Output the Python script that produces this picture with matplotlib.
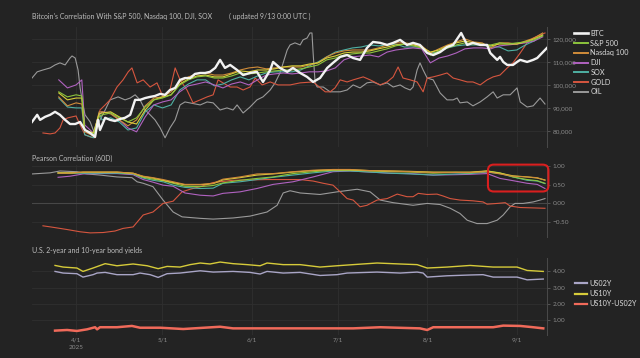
import numpy as np
import pandas as pd
import matplotlib
matplotlib.use("Agg")
import matplotlib.pyplot as plt
import matplotlib.dates as mdates
from matplotlib.ticker import FuncFormatter, FixedLocator
from matplotlib.patches import FancyBboxPatch

plt.rcParams['font.family'] = ['Lato', 'DejaVu Sans']

BASE = "2025-04-01"

# ---------------- Panel 1: prices (BTC axis, others rescaled onto it), USD thousands
btc_days = [-15.3,-13.5,-12.5,-10.8,-9.0,-7.3,-5.6,-3.8,-2.1,-0.3,1.4,3.1,4.9,6.6,7.6,8.3,10.1,11.8,13.5,15.3,
            17.0,18.8,20.5,22.2,24.0,25.7,27.4,29.2,30.9,32.6,34.4,36.1,37.8,39.6,41.3,43.1,44.8,46.5,48.3,50.0,
            51.7,53.5,55.9,58.0,60.4,62.8,64.9,67.4,68.4,70.8,73.3,75.3,77.8,80.2,82.3,84.7,87.2,89.2,91.7,94.1,
            96.2,98.6,101.0,103.1,105.6,108.0,110.1,112.5,114.9,117.0,119.4,121.9,124.0,126.4,128.8,130.9,133.7,135.8,137.8,140.3,
            142.7,143.8,146.2,147.2,148.3,149.7,151.7,153.1,154.2,156.6,158.7,160.1,161.1,162.8,163.5]
btc_k = [83.9,87.0,84.8,86.1,87.0,88.3,87.0,84.8,83.0,83.0,83.9,80.4,79.1,77.4,84.8,80.4,85.7,84.8,84.3,85.2,
         85.7,87.0,93.5,93.5,94.3,94.8,95.2,96.1,95.7,97.8,98.7,102.2,103.0,103.0,104.8,105.2,105.2,105.7,107.4,110.9,
         107.4,108.7,106.5,104.3,105.2,105.7,101.3,106.5,110.0,107.4,105.7,107.4,105.2,103.5,101.3,103.0,107.4,109.6,112.2,113.0,
         111.7,110.9,116.1,118.7,118.3,117.4,118.3,119.6,117.4,118.3,117.4,113.9,113.0,114.3,116.5,117.4,122.6,117.4,118.3,117.4,
         117.4,113.9,110.9,112.2,110.0,108.7,108.7,110.0,110.9,110.0,110.9,111.7,113.0,115.2,116.1]

oil_days = [-15.3,-13.5,-11.5,-9.0,-7.3,-5.6,-3.8,-2.1,-1.4,-0.3,0.7,1.4,2.4,3.1,4.9,6.6,7.3,8.3,10.1,11.8,
            14.6,17.0,18.8,20.5,22.2,24.0,25.7,27.4,29.2,30.9,32.6,34.4,36.1,37.8,43.1,45.5,47.6,50.0,52.4,54.5,
            55.9,58.0,60.4,62.8,64.9,67.4,69.1,70.8,71.9,73.3,74.3,76.0,77.8,78.8,80.2,81.2,81.9,82.3,83.0,83.7,
            85.8,88.2,91.7,94.1,96.2,98.6,101.0,103.1,105.6,108.0,110.1,112.5,114.2,116.0,117.0,118.4,119.4,120.5,121.9,124.0,
            126.4,128.8,130.9,132.3,133.3,135.8,137.8,140.3,142.7,144.8,146.2,148.3,150.7,153.1,154.2,156.6,158.7,161.1,162.8]
oil_k = [103.0,105.7,106.5,107.4,108.7,109.6,108.7,111.7,112.6,111.7,106.5,98.7,91.3,87.0,83.9,78.3,81.7,84.8,89.1,93.5,
         94.8,93.5,94.3,95.7,93.5,89.1,87.0,84.8,81.3,77.0,81.3,84.8,91.3,92.6,91.3,92.6,92.2,89.1,90.0,89.1,
         91.3,87.8,90.4,93.5,94.8,97.8,100.9,105.2,109.6,115.2,117.4,118.3,117.4,119.6,120.4,122.6,122.6,113.9,100.9,99.1,
         99.1,97.0,97.0,97.8,100.0,98.7,100.9,101.3,100.0,100.9,99.1,100.0,98.7,97.8,99.1,106.5,109.6,106.5,103.0,102.2,
         96.5,93.5,93.5,94.3,92.2,92.6,90.9,92.6,94.8,97.0,94.3,95.7,95.7,98.7,92.6,90.4,90.9,94.3,91.7]

gold_days = [-11.5,-9.0,-7.3,-5.6,-4.5,-2.8,-1.4,0.0,1.4,3.1,4.9,6.6,8.3,10.1,11.8,14.2,16.3,18.1,19.4,21.2,
             23.3,25.7,28.1,30.2,32.6,34.4,36.1,38.5,40.6,43.1,45.5,47.6,49.3,51.0,53.5,55.9,58.0,60.4,62.2,64.6,
             67.4,70.1,74.3,77.8,82.3,86.5,88.2,89.9,91.7,94.1,96.2,99.7,102.1,105.6,108.0,110.1,111.8,113.5,116.0,118.4,
             120.5,121.9,124.0,126.4,128.8,130.9,133.3,135.8,137.8,140.3,142.7,144.8,147.2,149.7,151.7,154.2,156.6,158.7,161.1,162.8]
gold_k = [79.1,78.7,79.1,81.3,84.8,85.7,86.1,86.5,82.6,78.3,77.4,77.0,89.1,91.3,93.5,99.1,102.2,105.7,107.4,100.9,
          102.2,99.1,100.9,94.8,97.8,107.4,102.2,97.8,92.2,93.5,94.8,95.7,102.2,100.9,99.1,99.1,97.8,99.1,103.0,100.0,
          101.3,100.0,100.0,100.9,101.3,97.0,97.0,98.7,102.2,101.3,102.2,103.5,102.2,100.0,101.3,103.5,107.8,103.0,102.2,101.3,
          97.0,103.0,103.5,104.3,105.2,103.0,102.2,101.3,101.3,100.0,102.2,103.5,104.3,107.4,109.6,113.9,118.3,120.4,121.7,122.6]

eq_days = [-6,-3,0,2,3,6,8,9,12,15,18,21,24,27,30,33,36,39,42,45,48,51,54,57,60,63,66,69,72,75,78,81,84,87,90,93,96,99,
           102,105,108,111,114,117,120,123,126,129,132,135,138,141,144,147,150,153,156,159,162]
spx_k = [97.0,94.8,95.7,95.2,80.4,78.3,86.1,87.0,87.8,85.7,83.9,85.7,90.4,93.5,94.3,95.7,100.0,
         102.2,103.5,103.9,103.0,103.0,103.9,105.2,104.8,105.2,105.7,106.1,106.5,106.5,107.0,107.8,108.7,110.9,111.7,113.0,113.5,
         113.9,113.9,114.8,115.7,117.0,117.8,117.0,116.1,113.0,114.8,116.1,117.4,118.3,117.8,117.4,117.4,118.3,117.8,118.3,118.7,119.6,121.3]
ndx_k = [94.8,90.9,92.2,91.7,79.6,77.8,88.3,88.3,87.4,84.8,82.2,84.8,90.9,94.3,94.8,97.0,101.3,
         103.5,104.8,105.2,104.3,104.3,105.2,106.5,107.4,107.8,107.0,107.4,107.8,107.8,107.8,108.7,109.6,112.2,113.9,114.8,115.2,
         115.2,115.2,116.1,117.4,118.3,118.3,117.8,117.0,113.9,115.7,117.4,118.7,120.0,118.7,118.3,116.1,118.3,118.3,117.8,119.1,120.4,122.6]
dji_k = [102.2,98.7,100.0,102.2,82.6,79.1,87.0,88.3,87.8,84.8,81.3,79.6,86.1,91.3,92.6,93.5,97.0,
         99.6,100.4,101.3,100.0,98.7,100.4,101.3,100.0,102.2,104.3,104.8,105.2,104.8,105.2,105.7,105.7,106.1,107.4,110.9,112.2,
         112.6,113.0,112.2,114.3,115.2,115.7,116.1,115.7,109.6,111.7,112.6,113.9,115.7,116.1,116.1,115.7,117.0,117.4,117.8,118.3,119.1,120.9]
sox_k = [94.3,90.4,90.0,90.0,78.3,77.0,87.8,84.8,85.7,83.9,80.4,81.3,88.3,91.3,90.0,91.3,97.8,
         100.4,102.2,102.2,99.6,100.4,102.2,103.5,102.2,103.9,105.2,105.7,105.7,105.7,106.5,108.3,110.0,112.2,114.3,115.2,116.1,
         116.5,117.4,117.0,117.4,117.8,116.5,116.5,116.5,113.9,114.3,116.1,117.0,117.4,117.4,117.4,116.5,116.5,114.8,115.2,117.4,119.1,121.7]
yellow_k = [96.5,93.5,94.3,94.3,80.4,79.1,87.4,87.8,88.3,86.1,83.9,83.0,89.1,93.5,94.8,95.7,100.4,
            102.6,103.9,104.3,103.5,103.5,104.8,106.1,105.7,106.5,106.5,107.0,107.8,108.3,108.3,109.1,109.6,111.7,112.6,113.9,114.3,
            114.3,114.8,115.7,116.5,117.4,117.8,117.4,116.5,114.3,115.2,117.0,118.3,119.1,118.3,117.8,117.0,117.8,117.8,117.8,118.7,120.0,121.7]

# ---------------- Panel 2: Pearson correlation (60D)
corr_eq_days = [-6.25,-2.1,2.4,8.3,14.2,19.8,23.3,26.7,30.2,33.7,37.8,43.1,47.6,51.0,56.9,62.8,68.4,75.3,82.3,89.2,
                95.1,102.1,109.0,116.0,124.0,131.6,136.8,142.7,147.2,151.7,156.6,160.1,162.8]
corr_ndx = [0.81,0.81,0.84,0.84,0.84,0.81,0.73,0.69,0.64,0.58,0.51,0.51,0.54,0.65,0.71,0.79,0.80,0.85,0.89,0.91,
            0.91,0.88,0.87,0.85,0.83,0.83,0.83,0.85,0.79,0.73,0.71,0.69,0.62]
corr_spx = [0.82,0.81,0.83,0.83,0.83,0.80,0.70,0.65,0.61,0.54,0.46,0.45,0.48,0.55,0.62,0.67,0.71,0.80,0.85,0.89,
            0.89,0.87,0.85,0.84,0.81,0.83,0.82,0.87,0.82,0.71,0.64,0.61,0.54]
corr_sox = [0.81,0.81,0.81,0.81,0.81,0.79,0.68,0.62,0.58,0.49,0.43,0.40,0.41,0.54,0.58,0.64,0.70,0.76,0.82,0.87,
            0.87,0.84,0.81,0.79,0.76,0.79,0.80,0.84,0.80,0.71,0.62,0.60,0.53]
corr_dji = [0.70,0.73,0.79,0.80,0.80,0.77,0.64,0.57,0.49,0.46,0.28,0.22,0.20,0.27,0.31,0.40,0.51,0.58,0.71,0.85,
            0.87,0.84,0.81,0.80,0.76,0.77,0.78,0.80,0.67,0.61,0.54,0.51,0.40]
corr_yellow = [0.82,0.82,0.84,0.84,0.84,0.81,0.72,0.68,0.62,0.56,0.50,0.50,0.53,0.63,0.69,0.76,0.79,0.84,0.88,0.90,
               0.90,0.88,0.87,0.86,0.84,0.84,0.84,0.87,0.81,0.74,0.71,0.68,0.63]
corr_oil_days = [-15.3,-9.0,-5.6,0.3,3.8,8.3,14.2,19.4,21.2,23.3,26.7,30.2,33.7,36.8,43.1,47.6,54.5,60.4,66.3,69.8,
                 71.9,74.3,77.8,84.7,90.6,97.6,102.1,105.6,110.1,117.0,121.9,126.4,129.9,133.3,135.8,139.2,142.7,146.2,148.3,150.7,
                 152.4,155.2,158.7,161.1,162.8]
corr_oil = [0.79,0.82,0.87,0.85,0.79,0.76,0.71,0.69,0.58,0.54,0.45,0.09,-0.23,-0.36,-0.40,-0.42,-0.39,-0.34,-0.23,-0.05,
            0.28,0.34,0.28,0.24,0.31,0.38,0.31,0.09,0.02,-0.05,0.00,-0.03,-0.13,-0.27,-0.45,-0.54,-0.54,-0.45,-0.31,-0.09,
            0.00,0.00,0.04,0.09,0.13]
corr_gold_days = [-11.5,-8.0,-3.1,1.4,4.9,9.4,13.5,16.3,19.8,23.3,26.7,30.2,33.7,36.8,39.6,43.1,47.6,54.5,66.3,77.8,
                  82.3,85.8,89.2,91.7,94.1,96.2,98.6,101.0,104.5,108.0,111.5,114.9,117.0,118.8,121.9,125.3,127.4,129.9,133.3,137.8,
                  141.3,142.7,146.2,149.0,150.7,154.2,158.7,162.8]
corr_gold = [-0.60,-0.64,-0.70,-0.76,-0.79,-0.78,-0.74,-0.67,-0.63,-0.31,-0.23,0.00,0.06,0.31,0.38,0.45,0.56,0.62,0.64,0.64,
             0.60,0.54,0.49,0.31,0.13,0.09,-0.09,-0.05,0.09,0.13,0.25,0.18,0.18,0.27,0.24,0.25,0.20,0.13,0.09,0.07,
             0.04,-0.02,0.00,0.02,-0.07,-0.11,-0.12,-0.13]

# ---------------- Panel 3: US yields (%)
us10y_days = [-7.3,-4.5,0.3,2.4,5.9,10.1,14.2,19.8,24.7,28.5,31.6,36.1,39.6,43.1,46.5,50.0,54.5,59.4,63.9,66.3,
              71.9,77.8,84.7,90.6,96.2,104.5,112.5,118.4,121.9,128.8,136.8,144.8,153.1,156.6,162.2]
us10y = [4.37,4.27,4.21,4.00,4.21,4.48,4.35,4.46,4.35,4.17,4.31,4.27,4.42,4.52,4.46,4.58,4.48,4.42,4.35,4.52,
         4.42,4.42,4.27,4.35,4.42,4.52,4.46,4.42,4.21,4.27,4.37,4.27,4.27,4.06,4.00]
us02y_days = [-7.3,-4.5,0.3,2.4,5.9,7.3,10.1,14.2,19.8,22.2,25.7,28.5,31.6,36.1,43.1,47.6,54.5,60.4,63.9,66.3,
              71.9,77.8,84.7,90.6,94.1,104.5,112.5,118.4,120.5,121.9,128.8,136.8,141.3,144.8,153.1,156.6,162.2]
us02y = [4.00,3.90,3.86,3.65,3.80,3.90,3.94,3.80,3.80,3.90,3.80,3.63,3.86,3.90,4.04,3.96,4.00,3.94,3.84,4.00,
         3.90,3.94,3.75,3.80,3.90,3.96,3.90,3.96,3.90,3.65,3.73,3.78,3.80,3.65,3.65,3.48,3.53]
spread_days = [-7.3,-3.1,0.3,3.8,6.6,7.3,8.3,14.2,19.4,22.2,29.2,37.2,50.0,54.5,66.3,84.7,96.2,105.6,119.4,121.9,
               124.0,136.8,144.8,148.3,154.2,158.7,162.2]
spread = [0.34,0.38,0.32,0.42,0.55,0.42,0.55,0.55,0.63,0.52,0.52,0.44,0.58,0.48,0.48,0.48,0.48,0.55,0.48,0.38,
          0.55,0.55,0.55,0.65,0.63,0.55,0.48]

month_ticks = ["2025-04-01", "2025-05-01", "2025-06-01", "2025-07-01", "2025-08-01", "2025-09-01"]
month_labels = ["4/1\n2025", "5/1", "6/1", "7/1", "8/1", "9/1"]
price_ticks = [80, 90, 100, 110, 120]
corr_ticks = [-0.5, 0.0, 0.5, 1.0]
yield_ticks = [1.0, 2.0, 3.0, 4.0]


def dates(days):
    return pd.Timestamp(BASE) + pd.to_timedelta(np.asarray(days, dtype=float), unit="D")


BG = "#232323"
GRID = "#2f2f2f"
TXT = "#bdbdbd"
TICK = "#8a8a8a"

fig = plt.figure(figsize=(6.4, 3.58), dpi=100, facecolor=BG)
W, H = 640, 358
L, R = 32 / W, 547 / W


def panel(top, bottom):
    ax = fig.add_axes([L, 1 - bottom / H, R - L, (bottom - top) / H])
    ax.set_facecolor(BG)
    for s in ["top", "left", "bottom"]:
        ax.spines[s].set_visible(False)
    ax.spines["right"].set_color("#4a4a4a")
    ax.spines["right"].set_linewidth(0.7)
    ax.yaxis.tick_right()
    ax.tick_params(axis="y", colors="#5a5a5a", labelcolor=TICK, labelsize=4.6, length=2.5, width=0.6, pad=1.5)
    ax.tick_params(axis="x", colors="#5a5a5a", labelcolor=TICK, labelsize=4.6, length=0, pad=2)
    ax.xaxis.set_major_locator(FixedLocator(mdates.date2num(pd.to_datetime(month_ticks))))
    ax.grid(True, color=GRID, lw=0.6)
    ax.set_axisbelow(True)
    ax.set_xlim(dates([-15.3])[0], dates([163.5])[0])
    return ax


ax1 = panel(27, 147)
ax2 = panel(165, 237)
ax3 = panel(258, 335)

# Panel 1
ax1.plot(dates(oil_days), oil_k, color="#9a9a9a", lw=0.8, label="OIL", zorder=2)
ax1.plot(dates(gold_days), gold_k, color="#d6563f", lw=0.8, label="GOLD", zorder=2)
ax1.plot(dates(eq_days), sox_k, color="#4fb0a3", lw=0.8, label="SOX", zorder=3)
ax1.plot(dates(eq_days), dji_k, color="#b062c0", lw=0.8, label="DJI", zorder=3)
ax1.plot(dates(eq_days), ndx_k, color="#d08c3a", lw=0.8, label="Nasdaq 100", zorder=3)
ax1.plot(dates(eq_days), yellow_k, color="#d8cf3a", lw=0.8, label="_nolegend_", zorder=3)
ax1.plot(dates(eq_days), spx_k, color="#8cc43c", lw=0.8, label="S&P 500", zorder=3)
ax1.plot(dates(btc_days), btc_k, color="#f2f2f2", lw=1.7, label="BTC", zorder=5)
ax1.set_ylim(73.0, 125.2)
ax1.yaxis.set_major_locator(FixedLocator(price_ticks))
ax1.yaxis.set_major_formatter(FuncFormatter(lambda v, p: f"{v * 1000:,.0f}"))
ax1.tick_params(axis="x", labelbottom=False)
h, l = ax1.get_legend_handles_labels()
order = ["BTC", "S&P 500", "Nasdaq 100", "DJI", "SOX", "GOLD", "OIL"]
hd = dict(zip(l, h))
leg1 = fig.legend([hd[k] for k in order], order, loc="upper left", bbox_to_anchor=(574 / W, 1 - 30 / H),
                  frameon=False, fontsize=5.2, labelcolor="#dcdcdc", handlelength=1.9, handletextpad=0.35,
                  labelspacing=0.38, borderpad=0, borderaxespad=0)
for ln in leg1.get_lines():
    ln.set_linewidth(1.4)
leg1.get_lines()[0].set_linewidth(1.9)

# Panel 2
ax2.axhline(0, color="#474747", lw=0.8, zorder=1)
ax2.plot(dates(corr_oil_days), corr_oil, color="#9a9a9a", lw=0.8, zorder=2)
ax2.plot(dates(corr_gold_days), corr_gold, color="#d6563f", lw=0.8, zorder=2)
ax2.plot(dates(corr_eq_days), corr_dji, color="#b062c0", lw=0.8, zorder=3)
ax2.plot(dates(corr_eq_days), corr_sox, color="#4fb0a3", lw=0.8, zorder=3)
ax2.plot(dates(corr_eq_days), corr_spx, color="#8cc43c", lw=0.8, zorder=3)
ax2.plot(dates(corr_eq_days), corr_yellow, color="#d8cf3a", lw=0.8, zorder=3)
ax2.plot(dates(corr_eq_days), corr_ndx, color="#d08c3a", lw=0.8, zorder=3)
ax2.set_ylim(-0.90, 1.03)
ax2.yaxis.set_major_locator(FixedLocator(corr_ticks))
ax2.yaxis.set_major_formatter(FuncFormatter(lambda v, p: f"{v:.2f}".replace("-", "\u2212")))
ax2.tick_params(axis="x", labelbottom=False)

# Panel 3
ax3.plot(dates(us02y_days), us02y, color="#a9a5c6", lw=1.0, label="US02Y", zorder=3)
ax3.plot(dates(us10y_days), us10y, color="#d6cb3a", lw=1.0, label="US10Y", zorder=3)
ax3.plot(dates(spread_days), spread, color="#f06a5a", lw=1.8, label="US10Y-US02Y", zorder=3)
ax3.set_ylim(0.07, 4.83)
ax3.yaxis.set_major_locator(FixedLocator(yield_ticks))
ax3.yaxis.set_major_formatter(FuncFormatter(lambda v, p: f"{v:.2f}"))
ax3.set_xticklabels(month_labels, linespacing=1.5)
leg3 = fig.legend(*ax3.get_legend_handles_labels(), loc="upper left", bbox_to_anchor=(575 / W, 1 - 280 / H),
                  frameon=False, fontsize=5.2, labelcolor="#dcdcdc", handlelength=1.7, handletextpad=0.35,
                  labelspacing=0.45, borderpad=0, borderaxespad=0)
for ln in leg3.get_lines():
    ln.set_linewidth(1.6)

# Titles
fig.text(32 / W, 1 - 16 / H, "Bitcoin's Correlation With S&P 500, Nasdaq 100, DJI, SOX", fontsize=5.05,
         color=TXT, va="center", ha="left")
fig.text(229 / W, 1 - 16 / H, "( updated 9/13 0:00 UTC )", fontsize=5.05, color=TXT, va="center", ha="left")
fig.text(32 / W, 1 - 158 / H, "Pearson Correlation (60D)", fontsize=5.05, color=TXT, va="center", ha="left")
fig.text(32 / W, 1 - 250.5 / H, "U.S. 2-year and 10-year bond yields", fontsize=5.05, color=TXT, va="center", ha="left")

# Highlight box around recent correlation decline
x0 = mdates.date2num(dates([143.0])[0]); x1 = mdates.date2num(dates([164.0])[0])
p0 = fig.transFigure.inverted().transform(ax2.transData.transform((x0, 0.32)))
p1 = fig.transFigure.inverted().transform(ax2.transData.transform((x1, 1.04)))
box = FancyBboxPatch((p0[0], p0[1]), p1[0] - p0[0], p1[1] - p0[1], transform=fig.transFigure,
                     boxstyle="round,pad=0,rounding_size=0.009", mutation_aspect=W / H,
                     fill=False, edgecolor="#d91f1f", lw=1.5, zorder=10)
fig.patches.append(box)

fig.savefig("out.png", dpi=100, facecolor=BG)
